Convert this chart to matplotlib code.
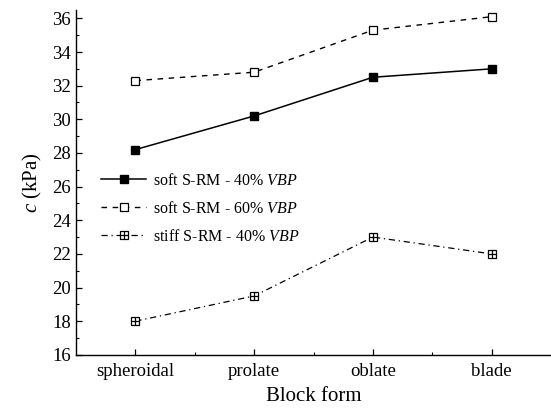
import matplotlib.pyplot as plt
import numpy as np
from matplotlib.ticker import MultipleLocator

plt.rcParams["font.family"] = "Liberation Serif"
plt.rcParams["mathtext.fontset"] = "custom"
plt.rcParams["mathtext.it"] = "Liberation Serif:italic"
plt.rcParams["mathtext.rm"] = "Liberation Serif"

# cohesion by block form
forms = ["spheroidal", "prolate", "oblate", "blade"]
soft_40 = [28.2, 30.2, 32.5, 33.0]
soft_60 = [32.3, 32.8, 35.3, 36.1]
stiff_40 = [18.0, 19.5, 23.0, 22.0]

x = np.arange(len(forms))

f = plt.figure(figsize=(5.51, 4.15), dpi=100)
ax = f.add_axes([0.138, 0.145, 0.862, 0.831])

ms = 6.2
(l1,) = ax.plot(x, soft_40, "-", color="black", lw=1.1, marker="s", ms=ms,
                mfc="black", mec="black")
(l2,) = ax.plot(x, soft_60, color="black", lw=1.0, ls=(0, (4, 4)), marker="s",
                ms=ms, mfc="white", mec="black", mew=0.9)
(l3,) = ax.plot(x, stiff_40, color="black", lw=0.9, ls=(0, (5, 3, 1, 3)),
                marker="s", ms=ms, mfc="white", mec="black", mew=0.9)
(l3p,) = ax.plot(x, stiff_40, ls="none", marker="+", ms=ms, mec="black",
                 mew=0.9)

ax.legend(
    [l1, l2, (l3, l3p)],
    ["soft S-RM - 40% $\\it{VBP}$", "soft S-RM - 60% $\\it{VBP}$",
     "stiff S-RM - 40% $\\it{VBP}$"],
    loc="upper left",
    bbox_to_anchor=(0.03, 0.56),
    frameon=False,
    fontsize=11.5,
    handlelength=2.8,
    handletextpad=0.45,
    labelspacing=0.75,
    borderpad=0.2,
)

ax.set_xlim(-0.5, 3.5)
ax.set_ylim(16, 36.5)
ax.set_xticks(x)
ax.set_xticklabels(forms)
ax.xaxis.set_minor_locator(plt.FixedLocator([0.5, 1.5, 2.5]))
ax.yaxis.set_major_locator(MultipleLocator(2))
ax.yaxis.set_minor_locator(MultipleLocator(1))

ax.tick_params(which="major", direction="in", length=4.5, width=0.9,
               labelsize=13.5)
ax.tick_params(which="minor", direction="in", length=2.5, width=0.8)
ax.tick_params(axis="x", which="major", pad=6)

for side in ("top", "right"):
    ax.spines[side].set_visible(False)
for side in ("left", "bottom"):
    ax.spines[side].set_linewidth(1.0)

ax.set_xlabel("Block form", fontsize=15, labelpad=5)
ax.set_ylabel("$\\it{c}$ (kPa)", fontsize=15, labelpad=6)

f.savefig("out.png", dpi=100)
